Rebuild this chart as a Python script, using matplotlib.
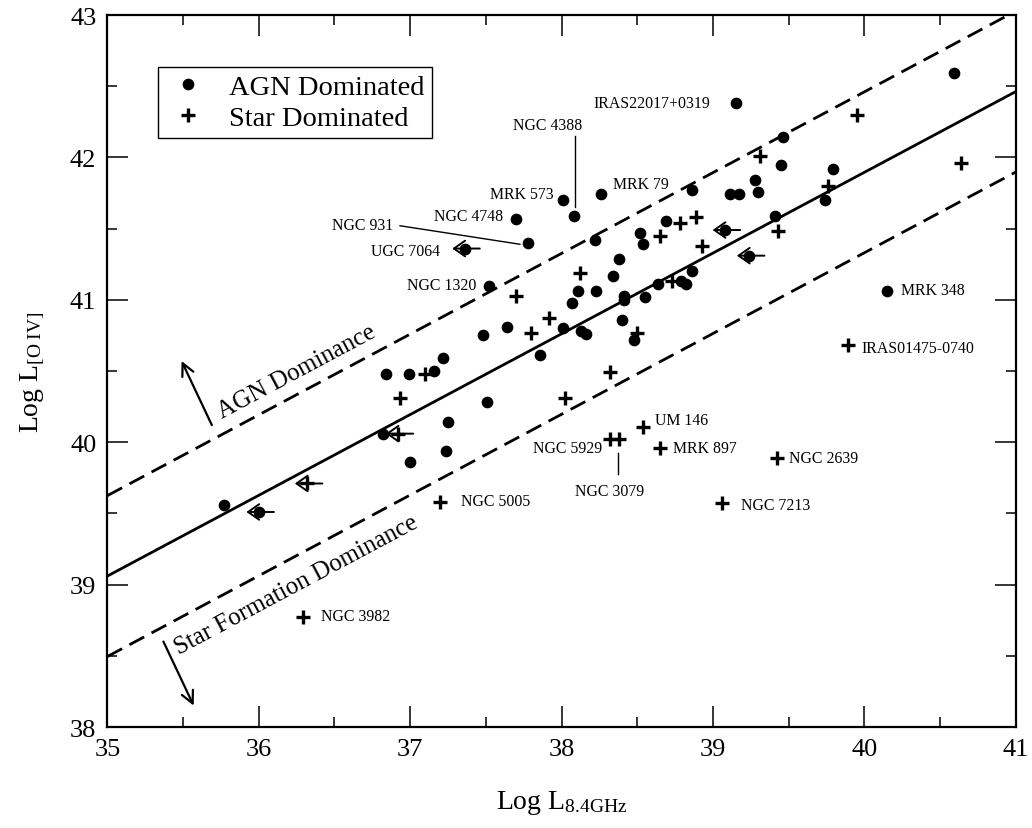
import numpy as np
import matplotlib
matplotlib.use("Agg")
import matplotlib.pyplot as plt
from matplotlib.ticker import MultipleLocator

plt.rcParams['font.family'] = ['Liberation Serif', 'DejaVu Serif']
plt.rcParams['mathtext.fontset'] = 'custom'
plt.rcParams['mathtext.rm'] = 'Liberation Serif'
plt.rcParams['mathtext.it'] = 'Liberation Serif:italic'

# ---------------- data ----------------
agn_x = [40.59, 39.15, 39.46, 39.45, 39.79, 39.74, 38.01, 38.08, 38.26, 38.86, 39.11, 39.17,
         39.28, 39.30, 39.41, 38.69, 38.52, 38.54, 38.22, 38.38, 38.34, 38.86, 38.11, 38.23,
         38.07, 38.64, 38.79, 38.82, 38.41, 38.41, 38.55, 38.01, 37.86, 38.40, 38.13, 38.16,
         38.48, 40.15, 37.70, 37.78, 37.52, 37.64, 37.48, 37.22, 36.84, 36.99, 37.16, 37.51,
         37.25, 36.82, 37.00, 37.24, 35.77]
agn_y = [42.59, 42.38, 42.14, 41.95, 41.92, 41.70, 41.70, 41.59, 41.74, 41.77, 41.74, 41.74,
         41.84, 41.76, 41.59, 41.55, 41.47, 41.39, 41.42, 41.29, 41.17, 41.20, 41.06, 41.06,
         40.98, 41.11, 41.13, 41.11, 41.03, 41.00, 41.02, 40.80, 40.61, 40.86, 40.78, 40.76,
         40.72, 41.06, 41.57, 41.40, 41.10, 40.81, 40.75, 40.59, 40.48, 40.48, 40.50, 40.28,
         40.14, 40.06, 39.86, 39.94, 39.56]
agn_lim_x = [39.08, 39.24, 37.36, 36.00]
agn_lim_y = [41.49, 41.31, 41.36, 39.51]

star_x = [39.95, 39.31, 40.64, 39.76, 38.89, 38.78, 38.65, 39.43, 38.93, 38.12, 38.73, 37.92,
          38.50, 39.89, 38.32, 37.70, 37.80, 37.10, 36.93, 37.20, 36.29, 38.02, 38.54, 38.32,
          38.38, 38.65, 39.42, 39.06]
star_y = [42.30, 42.01, 41.96, 41.80, 41.58, 41.54, 41.45, 41.48, 41.38, 41.19, 41.13, 40.87,
          40.77, 40.68, 40.49, 41.03, 40.77, 40.48, 40.31, 39.58, 38.77, 40.31, 40.11, 40.02,
          40.02, 39.96, 39.89, 39.57]
star_lim_x = [36.92, 36.32]
star_lim_y = [40.06, 39.71]

fit_slope = 0.567
fit_intercept = 19.215
band_offset = 0.565

# labels: text, x, y, ha
labels = [
    ("IRAS22017+0319", 38.985, 42.38, 'right'),
    ("MRK 573", 37.95, 41.74, 'right'),
    ("MRK 79", 38.34, 41.81, 'left'),
    ("NGC 4748", 37.615, 41.585, 'right'),
    ("NGC 931", 36.888, 41.526, 'right'),
    ("UGC 7064", 37.197, 41.344, 'right'),
    ("NGC 1320", 37.439, 41.103, 'right'),
    ("MRK 348", 40.24, 41.07, 'left'),
    ("IRAS01475-0740", 39.98, 40.66, 'left'),
    ("UM 146", 38.617, 40.154, 'left'),
    ("NGC 5929", 38.265, 39.962, 'right'),
    ("NGC 3079", 38.32, 39.657, 'center'),
    ("MRK 897", 38.734, 39.962, 'left'),
    ("NGC 2639", 39.504, 39.892, 'left'),
    ("NGC 7213", 39.185, 39.559, 'left'),
    ("NGC 5005", 37.334, 39.587, 'left'),
    ("NGC 3982", 36.411, 38.779, 'left'),
]

# ---------------- figure ----------------
W, H = 1032, 829
fig = plt.figure(figsize=(W / 100, H / 100), dpi=100)
ax_l, ax_r, ax_t, ax_b = 107.4, 1015.7, 16, 728
ax = fig.add_axes([ax_l / W, 1 - ax_b / H, (ax_r - ax_l) / W, (ax_b - ax_t) / H])
xmin, xmax, ymin, ymax = 35, 41, 38, 43
ax.set_xlim(xmin, xmax)
ax.set_ylim(ymin, ymax)

# fit lines
xx = np.array([xmin, xmax])
ax.plot(xx, fit_slope * xx + fit_intercept, color='black', lw=2.0, zorder=2)
ax.plot(xx, fit_slope * xx + fit_intercept + band_offset, color='black', lw=2.0,
        dashes=(6, 3), zorder=2)
ax.plot(xx, fit_slope * xx + fit_intercept - band_offset, color='black', lw=2.0,
        dashes=(6, 3), zorder=2)

# points
ax.plot(agn_x + agn_lim_x, agn_y + agn_lim_y, 'o', color='black', ms=7.4, zorder=4,
        label='AGN Dominated')
ax.plot(star_x + star_lim_x, star_y + star_lim_y, '+', color='black', ms=10, mew=2.4,
        zorder=4, label='Star Dominated')

# upper-limit arrows
for lx, ly in zip(agn_lim_x + star_lim_x, agn_lim_y + star_lim_y):
    ax.annotate('', xy=(lx - 0.082, ly), xytext=(lx + 0.10, ly),
                arrowprops=dict(arrowstyle='->, head_length=0.4, head_width=0.28',
                                color='black', lw=1.4,
                                shrinkA=0, shrinkB=0, mutation_scale=20), zorder=3)

# labels
for txt, tx, ty, ha in labels:
    ax.text(tx, ty, txt, ha=ha, va='center', fontsize=11.4, zorder=5)
ax.text(38.14, 42.17, "NGC 4388", ha='right', va='bottom', fontsize=11.4)
ax.plot([38.09, 38.09], [42.15, 41.65], color='black', lw=1.0)
ax.plot([36.933, 37.725], [41.52, 41.39], color='black', lw=1.0)
ax.plot([38.374, 38.374], [39.927, 39.774], color='black', lw=1.0)

# rotated region texts
px_per_x = (ax_r - ax_l) / (xmax - xmin)
px_per_y = (ax_b - ax_t) / (ymax - ymin)
ang = np.degrees(np.arctan(fit_slope * px_per_y / px_per_x))
ax.text(36.25, 40.50, "AGN Dominance", rotation=ang, rotation_mode='anchor',
        ha='center', va='center', fontsize=18)
ax.text(36.25, 39.00, "Star Formation Dominance", rotation=ang, rotation_mode='anchor',
        ha='center', va='center', fontsize=18)
ax.annotate('', xy=(35.49, 40.57), xytext=(35.69, 40.12),
            arrowprops=dict(arrowstyle='->', color='black', lw=1.6, mutation_scale=22,
                            shrinkA=0, shrinkB=0))
ax.annotate('', xy=(35.57, 38.15), xytext=(35.37, 38.60),
            arrowprops=dict(arrowstyle='->', color='black', lw=1.6, mutation_scale=22,
                            shrinkA=0, shrinkB=0))

# axes style
for s in ax.spines.values():
    s.set_linewidth(1.6)
ax.xaxis.set_major_locator(MultipleLocator(1))
ax.xaxis.set_minor_locator(MultipleLocator(0.5))
ax.yaxis.set_major_locator(MultipleLocator(1))
ax.yaxis.set_minor_locator(MultipleLocator(0.5))
ax.tick_params(which='both', direction='in', top=True, right=True, width=1.1)
ax.tick_params(which='major', length=15, labelsize=19, pad=8)
ax.tick_params(which='minor', length=7.5)

ax.set_xlabel(r'Log L$_{\rm 8.4GHz}$', fontsize=20, labelpad=20)
ax.set_ylabel(r'Log L$_{\rm [O\ IV]}$', fontsize=20, labelpad=16)

leg = ax.legend(loc='upper left', bbox_to_anchor=(0.0554, 0.9274), fontsize=20.5,
                frameon=True, fancybox=False, edgecolor='black', framealpha=1,
                borderpad=0.25, labelspacing=0.2, handletextpad=0.65, handlelength=1.6,
                borderaxespad=0.0)
leg.get_frame().set_linewidth(1.0)

fig.savefig('out.png', dpi=100)
